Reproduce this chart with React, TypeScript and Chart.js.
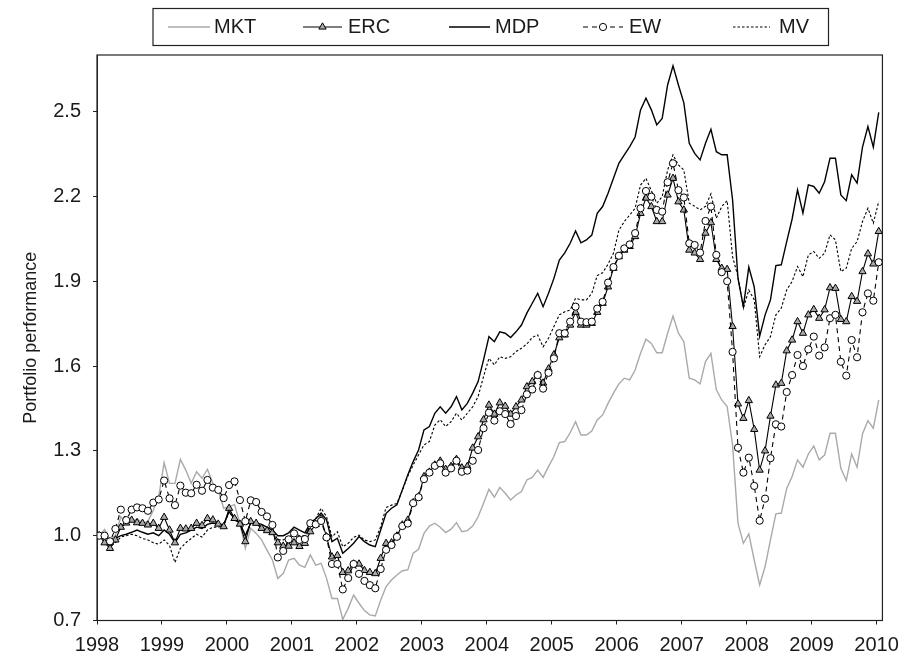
import React, { useEffect, useRef } from "react";
import { Chart, registerables } from "chart.js";

Chart.register(...registerables);

const START_YEAR = 1998;
const MONTH_OFFSET = 0.4;
const yearTicks = [1998, 1999, 2000, 2001, 2002, 2003, 2004, 2005, 2006, 2007, 2008, 2009, 2010];
const valueTicks = [0.7, 1.0, 1.3, 1.6, 1.9, 2.2, 2.5];
const seriesNames = ["MKT", "ERC", "MDP", "EW", "MV"];

const MKT = [
  1.0, 1.022, 0.985, 1.0, 1.067, 1.045, 1.05, 1.06, 1.045, 1.05, 1.09, 1.138,
  1.258, 1.185, 1.185, 1.27, 1.232, 1.185, 1.226, 1.203, 1.235, 1.185, 1.16, 1.097,
  1.103, 1.11, 1.044, 0.955, 1.026, 1.008, 0.985, 0.949, 0.914, 0.849, 0.866, 0.914,
  0.92, 0.896, 0.888, 0.932, 0.896, 0.902, 0.849, 0.778, 0.778, 0.704, 0.743, 0.79,
  0.761, 0.735, 0.72, 0.716, 0.772, 0.82, 0.843, 0.861, 0.876, 0.879, 0.938, 0.952,
  1.008, 1.034, 1.044, 1.03, 1.011, 1.023, 1.046, 1.014, 1.018, 1.034, 1.067, 1.115,
  1.164, 1.136, 1.171, 1.15, 1.126, 1.144, 1.156, 1.197, 1.206, 1.232, 1.206, 1.244,
  1.28, 1.329, 1.333, 1.364, 1.403, 1.356, 1.356, 1.37, 1.409, 1.427, 1.468, 1.504,
  1.537, 1.557, 1.551, 1.586, 1.645, 1.695, 1.68, 1.647, 1.647, 1.716, 1.777, 1.716,
  1.686, 1.557, 1.551, 1.537, 1.616, 1.645, 1.516, 1.48, 1.457, 1.32, 1.044, 0.973,
  1.006, 0.914, 0.826, 0.89, 0.985, 1.077, 1.08, 1.167, 1.209, 1.268, 1.242, 1.289,
  1.317, 1.268, 1.285, 1.362, 1.362, 1.238, 1.195, 1.289, 1.242, 1.36, 1.407, 1.38,
  1.48,
];

const ERC = [
  1.0, 0.975, 0.955, 0.985, 1.03, 1.045, 1.055, 1.046, 1.044, 1.038, 1.044, 1.026,
  1.065, 1.02, 0.975, 1.026, 1.024, 1.026, 1.044, 1.036, 1.061, 1.056, 1.041, 1.032,
  1.097, 1.061, 1.041, 0.979, 1.05, 1.044, 1.026, 1.018, 1.011, 0.975, 0.963, 0.963,
  0.975, 0.962, 0.973, 1.014, 1.04, 1.06, 0.996, 0.925, 0.93, 0.87, 0.876, 0.9,
  0.9, 0.877, 0.87, 0.866, 0.92, 0.973, 0.975, 0.999, 1.038, 1.055, 1.117, 1.138,
  1.209, 1.225, 1.25, 1.264, 1.235, 1.245, 1.27, 1.24, 1.245, 1.31, 1.35, 1.41,
  1.462, 1.43, 1.47, 1.458, 1.43, 1.456, 1.48, 1.527, 1.545, 1.568, 1.54, 1.59,
  1.64, 1.7, 1.71, 1.745, 1.79, 1.745, 1.745, 1.751, 1.79, 1.822, 1.88, 1.946,
  1.987, 2.01, 2.023, 2.058, 2.14, 2.194, 2.164, 2.111, 2.111, 2.205, 2.264, 2.181,
  2.152, 2.01, 2.0, 1.977, 2.07, 2.107, 1.977, 1.946, 1.942, 1.74, 1.466, 1.415,
  1.478, 1.376, 1.232, 1.3, 1.423, 1.533, 1.539, 1.654, 1.692, 1.757, 1.716, 1.781,
  1.8, 1.769, 1.799, 1.877, 1.875, 1.765, 1.757, 1.846, 1.829, 1.934, 1.997, 1.961,
  2.076,
];

const MDP = [
  1.0, 0.985, 0.965, 0.99, 1.0, 1.005, 1.012, 1.02, 1.012, 1.005, 1.01, 1.0,
  1.02, 1.005, 0.975, 1.005, 1.01, 1.02, 1.03, 1.025, 1.04, 1.045, 1.04, 1.04,
  1.085, 1.06, 1.045, 1.0, 1.045, 1.045, 1.04, 1.03, 1.02, 1.0, 1.0, 1.01,
  1.03, 1.02, 1.01, 1.045, 1.06, 1.08, 1.056, 0.979, 0.991, 0.938, 0.955, 0.973,
  0.997, 0.979, 0.967, 0.961, 1.02, 1.079, 1.097, 1.109, 1.162, 1.215, 1.262, 1.303,
  1.374, 1.386, 1.433, 1.456, 1.433, 1.456, 1.492, 1.445, 1.468, 1.504, 1.545, 1.622,
  1.704, 1.686, 1.721, 1.716, 1.701, 1.721, 1.745, 1.787, 1.822, 1.857, 1.81, 1.857,
  1.91, 1.975, 2.0, 2.034, 2.078, 2.036, 2.046, 2.063, 2.14, 2.164, 2.211, 2.264,
  2.317, 2.347, 2.376, 2.41, 2.506, 2.547, 2.506, 2.453, 2.476, 2.594, 2.662, 2.594,
  2.531, 2.388, 2.352, 2.329, 2.388, 2.437, 2.358, 2.347, 2.347, 2.188, 1.91, 1.81,
  1.95, 1.88, 1.705, 1.78, 1.834, 1.955, 1.958, 2.04, 2.12, 2.223, 2.141, 2.241,
  2.235, 2.211, 2.252, 2.335, 2.335, 2.205, 2.185, 2.276, 2.247, 2.374, 2.447, 2.374,
  2.497,
];

const EW = [
  1.0, 1.0, 0.98, 1.024, 1.092, 1.055, 1.092, 1.1, 1.097, 1.088, 1.117, 1.128,
  1.195, 1.132, 1.108, 1.177, 1.152, 1.15, 1.18, 1.159, 1.197, 1.17, 1.162, 1.133,
  1.179, 1.192, 1.126, 1.051, 1.125, 1.119, 1.084, 1.068, 1.038, 0.923, 0.946, 0.987,
  1.008, 0.985, 0.988, 1.044, 1.04, 1.052, 0.994, 0.9, 0.9, 0.81, 0.85, 0.9,
  0.865, 0.84, 0.825, 0.814, 0.882, 0.95, 0.967, 0.996, 1.034, 1.043, 1.115, 1.136,
  1.2, 1.223, 1.247, 1.256, 1.223, 1.238, 1.265, 1.226, 1.23, 1.265, 1.303, 1.38,
  1.435, 1.407, 1.44, 1.43, 1.395, 1.423, 1.444, 1.5, 1.517, 1.568, 1.52, 1.576,
  1.627, 1.716, 1.716, 1.757, 1.81, 1.757, 1.755, 1.757, 1.803, 1.827, 1.895, 1.95,
  1.99, 2.016, 2.03, 2.07, 2.158, 2.219, 2.199, 2.152, 2.146, 2.25, 2.317, 2.222,
  2.196, 2.034, 2.028, 2.001, 2.113, 2.164, 1.993, 1.932, 1.9, 1.65, 1.311, 1.223,
  1.276, 1.176, 1.053, 1.131, 1.274, 1.394, 1.386, 1.508, 1.568, 1.639, 1.6, 1.659,
  1.704, 1.637, 1.666, 1.769, 1.781, 1.615, 1.566, 1.692, 1.631, 1.79, 1.857, 1.831,
  1.967,
];

const MV = [
  1.0, 0.985, 0.96, 0.975, 0.995, 1.0, 1.005, 1.0, 0.99, 0.985, 0.975, 0.97,
  0.985, 0.965, 0.905, 0.955, 0.975, 0.99, 1.005, 0.995, 1.02, 1.03, 1.03, 1.035,
  1.085, 1.055, 1.045, 1.0, 1.045, 1.04, 1.03, 1.025, 1.02, 0.985, 0.985, 0.995,
  1.01, 1.0, 1.0, 1.035, 1.06, 1.097, 1.067, 0.996, 1.014, 0.961, 0.973, 0.994,
  1.002, 0.985, 0.979, 0.985, 1.032, 1.1, 1.108, 1.114, 1.16, 1.21, 1.25, 1.286,
  1.321, 1.333, 1.391, 1.41, 1.386, 1.403, 1.433, 1.409, 1.433, 1.456, 1.492, 1.563,
  1.627, 1.604, 1.633, 1.627, 1.633, 1.651, 1.663, 1.678, 1.701, 1.71, 1.668, 1.698,
  1.74, 1.781, 1.792, 1.798, 1.84, 1.834, 1.834, 1.857, 1.92, 1.93, 1.96, 1.999,
  2.08, 2.111, 2.134, 2.158, 2.24, 2.264, 2.22, 2.176, 2.199, 2.293, 2.347, 2.311,
  2.293, 2.176, 2.165, 2.152, 2.165, 2.209, 2.123, 2.164, 2.185, 1.987, 1.916, 1.805,
  1.869, 1.834, 1.633, 1.675, 1.704, 1.781, 1.805, 1.869, 1.899, 1.952, 1.916, 1.993,
  2.005, 1.981, 1.999, 2.064, 2.046, 1.934, 1.946, 2.016, 2.04, 2.111, 2.158, 2.105,
  2.182,
];

const FONT = "'Liberation Sans', Arial, Helvetica, sans-serif";
const TEXT_COLOR = "#1a1a1a";
const ERC_FILL = "#a8a8a8";
const MKT_COLOR = "#a9a9a9";

const toPoints = (vals: number[]) =>
  vals.map((v, i) => ({ x: START_YEAR + (i + MONTH_OFFSET) / 12, y: v }));

type LegendSpec = {
  name: string;
  x0: number;
  x1: number;
  tx: number;
  color: string;
  width: number;
  dash: number[];
  marker: "none" | "triangle" | "circle";
};

const legendLayout: LegendSpec[] = [
  { name: seriesNames[0], x0: 168, x1: 210, tx: 214, color: MKT_COLOR, width: 1.4, dash: [], marker: "none" },
  { name: seriesNames[1], x0: 303, x1: 342, tx: 348, color: "#000", width: 1.1, dash: [], marker: "triangle" },
  { name: seriesNames[2], x0: 449, x1: 490, tx: 495, color: "#000", width: 1.4, dash: [], marker: "none" },
  { name: seriesNames[3], x0: 583, x1: 623, tx: 629, color: "#000", width: 1.1, dash: [5, 4], marker: "circle" },
  { name: seriesNames[4], x0: 733, x1: 770, tx: 779, color: "#000", width: 1.1, dash: [2.5, 2], marker: "none" },
];

const framePlugin = {
  id: "frameAndLegend",
  afterDraw(chart: any) {
    const { ctx, chartArea } = chart;
    ctx.save();
    // plot frame
    ctx.strokeStyle = "#222";
    ctx.lineWidth = 1.2;
    ctx.setLineDash([]);
    ctx.strokeRect(chartArea.left, chartArea.top, chartArea.right - chartArea.left, chartArea.bottom - chartArea.top);
    // legend box
    ctx.strokeRect(153, 8.5, 675.5, 37);
    const cy = 27;
    legendLayout.forEach((it) => {
      ctx.beginPath();
      ctx.strokeStyle = it.color;
      ctx.lineWidth = it.width;
      ctx.setLineDash(it.dash);
      ctx.moveTo(it.x0, cy);
      ctx.lineTo(it.x1, cy);
      ctx.stroke();
      ctx.setLineDash([]);
      const mx = (it.x0 + it.x1) / 2;
      if (it.marker === "triangle") {
        const r = 4.2;
        ctx.beginPath();
        ctx.moveTo(mx, cy - r);
        ctx.lineTo(mx + r * 0.866, cy + r * 0.5);
        ctx.lineTo(mx - r * 0.866, cy + r * 0.5);
        ctx.closePath();
        ctx.fillStyle = ERC_FILL;
        ctx.fill();
        ctx.lineWidth = 1;
        ctx.strokeStyle = "#000";
        ctx.stroke();
      } else if (it.marker === "circle") {
        ctx.beginPath();
        ctx.arc(mx, cy, 3.6, 0, Math.PI * 2);
        ctx.fillStyle = "#fff";
        ctx.fill();
        ctx.lineWidth = 1;
        ctx.strokeStyle = "#000";
        ctx.stroke();
      }
      ctx.fillStyle = TEXT_COLOR;
      ctx.font = `20px ${FONT}`;
      ctx.textBaseline = "middle";
      ctx.textAlign = "left";
      ctx.fillText(it.name, it.tx, cy);
    });
    ctx.restore();
  },
};

export default function App() {
  const ref = useRef<HTMLCanvasElement | null>(null);

  useEffect(() => {
    if (!ref.current) return;
    const chart = new Chart(ref.current, {
      type: "line",
      data: {
        datasets: [
          {
            label: "EW",
            data: toPoints(EW),
            borderColor: "#000",
            borderWidth: 1.1,
            borderDash: [5, 4],
            pointStyle: "circle",
            pointRadius: 3.6,
            pointBackgroundColor: "#fff",
            pointBorderColor: "#000",
            pointBorderWidth: 1,
            tension: 0,
          },
          {
            label: "ERC",
            data: toPoints(ERC),
            borderColor: "#000",
            borderWidth: 1.1,
            pointStyle: "triangle",
            pointRadius: 4.2,
            pointBackgroundColor: ERC_FILL,
            pointBorderColor: "#000",
            pointBorderWidth: 1,
            tension: 0,
          },
          {
            label: "MDP",
            data: toPoints(MDP),
            borderColor: "#000",
            borderWidth: 1.4,
            pointRadius: 0,
            tension: 0,
          },
          {
            label: "MV",
            data: toPoints(MV),
            borderColor: "#000",
            borderWidth: 1.1,
            borderDash: [2.5, 2],
            pointRadius: 0,
            tension: 0,
          },
          {
            label: "MKT",
            data: toPoints(MKT),
            borderColor: MKT_COLOR,
            borderWidth: 1.4,
            pointRadius: 0,
            tension: 0,
          },
        ],
      },
      options: {
        animation: false,
        responsive: false,
        maintainAspectRatio: false,
        layout: { padding: { top: 55, right: 24.3, left: 0, bottom: 0 } },
        plugins: { legend: { display: false }, tooltip: { enabled: false } },
        scales: {
          x: {
            type: "linear",
            min: 1998,
            max: 2010.09,
            afterBuildTicks: (s: any) => {
              s.ticks = yearTicks.map((v) => ({ value: v }));
            },
            afterFit: (s: any) => {
              s.height = 36.5;
            },
            grid: { display: true, drawOnChartArea: false, drawTicks: true, tickLength: 4, color: "#222" },
            border: { display: true, color: "#222", width: 1 },
            ticks: {
              autoSkip: false,
              maxRotation: 0,
              padding: 9,
              color: TEXT_COLOR,
              font: { family: FONT, size: 20 },
              callback: (v: any) => String(v),
            },
          },
          y: {
            type: "linear",
            min: 0.7,
            max: 2.7,
            afterBuildTicks: (s: any) => {
              s.ticks = valueTicks.map((v) => ({ value: v }));
            },
            afterFit: (s: any) => {
              s.width = 97;
            },
            grid: { display: true, drawOnChartArea: false, drawTicks: true, tickLength: 4, color: "#222" },
            border: { display: true, color: "#222", width: 1 },
            ticks: {
              padding: 12,
              color: TEXT_COLOR,
              font: { family: FONT, size: 20 },
              callback: (v: any) => Number(v).toFixed(1),
            },
            title: {
              display: true,
              text: "Portfolio performance",
              color: TEXT_COLOR,
              font: { family: FONT, size: 18 },
              padding: { top: 20, bottom: 0 },
            },
          },
        },
      },
      plugins: [framePlugin],
    });
    return () => chart.destroy();
  }, []);

  return (
    <div style={{ position: "fixed", left: 0, top: 0, width: 908, height: 657, background: "#fff" }}>
      <canvas ref={ref} width={908} height={657} style={{ display: "block" }} />
    </div>
  );
}
